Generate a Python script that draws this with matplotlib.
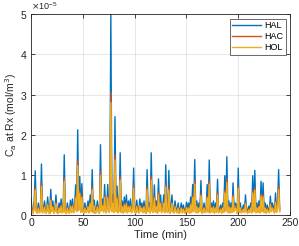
import numpy as np
import matplotlib
matplotlib.use('Agg')
import matplotlib.pyplot as plt
from matplotlib.ticker import ScalarFormatter

plt.rcParams['font.family'] = ['Liberation Sans', 'DejaVu Sans']

# time in minutes, concentrations given in units of 1e-7 mol/m^3
time_min = np.arange(0, 241)

hal = [40, 12, 6, 35, 110, 15, 8, 30, 10, 14,
       127, 9, 18, 35, 7, 12, 45, 10, 6, 64,
       14, 35, 8, 16, 50, 10, 7, 30, 12, 40,
       9, 15, 150, 11, 6, 30, 13, 8, 37, 12,
       40, 10, 18, 75, 14, 212, 20, 96, 12, 78,
       15, 8, 30, 11, 16, 35, 9, 50, 14, 113,
       10, 37, 7, 15, 35, 12, 8, 175, 18, 40,
       13, 76, 9, 16, 76, 12, 20, 500, 15, 50,
       11, 245, 14, 72, 9, 18, 155, 12, 35, 8,
       45, 13, 50, 9, 35, 15, 40, 10, 18, 117,
       12, 8, 37, 14, 9, 40, 16, 30, 10, 35,
       12, 7, 113, 15, 30, 9, 155, 14, 11, 75,
       13, 35, 8, 90, 16, 50, 10, 14, 50, 9,
       125, 15, 11, 111, 8, 16, 50, 12, 9, 35,
       14, 10, 30, 7, 15, 30, 9, 25, 12, 8,
       32, 13, 30, 7, 45, 11, 76, 15, 138, 10,
       35, 9, 30, 14, 86, 8, 12, 30, 10, 15,
       76, 11, 137, 9, 30, 13, 35, 8, 30, 12,
       89, 10, 14, 25, 8, 30, 12, 98, 16, 145,
       10, 35, 9, 30, 12, 80, 15, 30, 25, 8,
       117, 12, 30, 9, 14, 25, 10, 50, 13, 8,
       22, 11, 30, 9, 98, 14, 111, 10, 30, 12,
       35, 9, 84, 15, 80, 11, 30, 8, 25, 13,
       10, 47, 14, 30, 20, 9, 55, 12, 30, 113,
       15]

hac = [25, 8, 4, 22, 68, 9, 5, 19, 6, 9,
       79, 6, 11, 21, 4, 8, 28, 6, 4, 40,
       9, 22, 5, 10, 31, 6, 4, 19, 7, 25,
       6, 9, 93, 7, 4, 19, 8, 5, 23, 7,
       25, 6, 11, 47, 9, 136, 12, 60, 7, 48,
       9, 5, 19, 7, 10, 22, 6, 31, 9, 70,
       6, 23, 4, 9, 22, 7, 5, 108, 11, 25,
       8, 47, 6, 10, 47, 7, 12, 305, 9, 31,
       7, 150, 9, 45, 6, 11, 96, 7, 22, 5,
       28, 8, 31, 6, 22, 9, 25, 6, 11, 73,
       7, 5, 23, 9, 6, 25, 10, 19, 6, 22,
       7, 4, 70, 9, 19, 6, 96, 9, 7, 47,
       8, 22, 5, 56, 10, 31, 6, 9, 31, 6,
       78, 9, 7, 69, 5, 10, 31, 7, 6, 22,
       9, 6, 19, 4, 9, 19, 6, 16, 7, 5,
       20, 8, 19, 4, 28, 7, 47, 9, 86, 6,
       22, 6, 19, 9, 53, 5, 7, 19, 6, 9,
       47, 7, 85, 6, 19, 8, 22, 5, 19, 7,
       55, 6, 9, 16, 5, 19, 7, 61, 10, 90,
       6, 22, 6, 19, 7, 50, 9, 19, 16, 5,
       73, 7, 19, 6, 9, 16, 6, 31, 8, 5,
       14, 7, 19, 6, 61, 9, 69, 6, 19, 7,
       22, 6, 52, 9, 50, 7, 19, 5, 16, 8,
       6, 29, 9, 19, 12, 6, 34, 7, 19, 70,
       9]

hol = [22, 7, 3, 20, 62, 8, 4, 17, 6, 8,
       71, 5, 10, 20, 4, 7, 25, 6, 3, 36,
       8, 20, 4, 9, 28, 6, 4, 17, 7, 22,
       5, 8, 84, 6, 3, 17, 7, 4, 21, 7,
       22, 6, 10, 42, 8, 123, 11, 54, 7, 44,
       8, 4, 17, 6, 9, 20, 5, 28, 8, 63,
       6, 21, 4, 8, 20, 7, 4, 98, 10, 22,
       7, 43, 5, 9, 43, 7, 11, 280, 8, 28,
       6, 137, 8, 40, 5, 10, 87, 7, 20, 4,
       25, 7, 28, 5, 20, 8, 22, 6, 10, 66,
       7, 4, 21, 8, 5, 22, 9, 17, 6, 20,
       7, 4, 63, 8, 17, 5, 87, 8, 6, 42,
       7, 20, 4, 50, 9, 28, 6, 8, 28, 5,
       70, 8, 6, 62, 4, 9, 28, 7, 5, 20,
       8, 6, 17, 4, 8, 17, 5, 14, 7, 4,
       18, 7, 17, 4, 25, 6, 43, 8, 77, 6,
       20, 5, 17, 8, 48, 4, 7, 17, 6, 8,
       43, 6, 77, 5, 17, 7, 20, 4, 17, 7,
       50, 6, 8, 14, 4, 17, 7, 55, 9, 81,
       6, 20, 5, 17, 7, 45, 8, 17, 14, 4,
       66, 7, 17, 5, 8, 14, 6, 28, 7, 4,
       12, 6, 17, 5, 55, 8, 62, 6, 17, 7,
       20, 5, 47, 8, 45, 6, 17, 4, 14, 7,
       6, 26, 8, 17, 11, 5, 31, 7, 17, 63,
       8]

series_names = ['HAL', 'HAC', 'HOL']
series_colors = ['#0072BD', '#D95319', '#EDB120']

fig = plt.figure(figsize=(2.99, 2.46), dpi=100)
ax = fig.add_axes([0.104, 0.126, 0.866, 0.816])

for vals, name, col in zip([hal, hac, hol], series_names, series_colors):
    ax.plot(time_min, np.array(vals) * 1e-7, color=col, lw=1.0, label=name)

ax.set_xlim(0, 250)
ax.set_ylim(0, 5e-5)
ax.set_xticks([0, 50, 100, 150, 200, 250])
ax.set_yticks(np.arange(0, 6) * 1e-5)

fmt = ScalarFormatter(useMathText=True)
fmt.set_powerlimits((0, 0))
ax.yaxis.set_major_formatter(fmt)
ax.yaxis.get_offset_text().set_fontsize(6.5)
ax.yaxis.get_offset_text().set_color('#262626')

ax.grid(True, color='#262626', alpha=0.12, lw=0.6)
ax.tick_params(direction='in', top=True, right=True, labelsize=7.5,
               colors='#262626', length=3, width=0.6, pad=2.5)
for sp in ax.spines.values():
    sp.set_color('#262626')
    sp.set_linewidth(0.6)

ax.set_xlabel('Time (min)', fontsize=8, color='#262626', labelpad=1)
ax.set_ylabel('C$_{\\mathrm{a}}$ at Rx (mol/m$^{3}$)', fontsize=7.5, color='#262626', labelpad=1)

leg = ax.legend(loc='upper right', fontsize=6.5, frameon=True, fancybox=False,
                handlelength=3.2, borderpad=0.3, labelspacing=0.2, handletextpad=0.3,
                borderaxespad=0.5)
leg.get_frame().set_edgecolor('#262626')
leg.get_frame().set_linewidth(0.6)
for ln in leg.get_lines():
    ln.set_linewidth(1.0)

fig.savefig('out.png', dpi=100)
